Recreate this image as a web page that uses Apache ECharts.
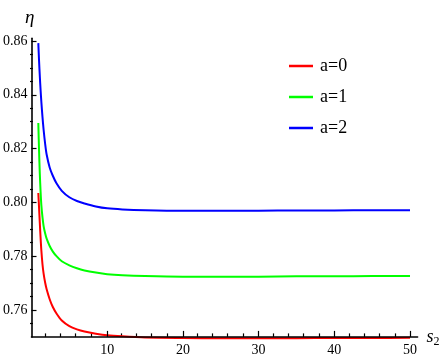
<!DOCTYPE html>
<html>
<head>
<meta charset="utf-8">
<script src="https://cdn.jsdelivr.net/npm/echarts@6/dist/echarts.min.js"></script>
<style>html,body{margin:0;padding:0;background:#fff;}#c{width:443px;height:360px;}</style>
</head>
<body>
<div id="c"></div>
<script>
var s2 = [0.9, 1.0, 1.1, 1.2, 1.3, 1.45, 1.6, 1.8, 2.0, 2.4, 2.8, 3.3, 4, 5, 6, 7, 8.5, 10, 12, 15, 20, 25, 30, 35, 40, 45, 50];
var etaA0 = [0.8035, 0.7978, 0.7922, 0.7868, 0.7822, 0.7770, 0.7735, 0.7702, 0.7677, 0.7640, 0.7612, 0.7587, 0.7561, 0.7540, 0.7528, 0.7520, 0.7512, 0.7506, 0.7502, 0.7498, 0.7496, 0.7495, 0.7495, 0.7495, 0.7496, 0.7496, 0.7497];
var etaA1 = [0.8295, 0.8190, 0.8105, 0.8040, 0.7990, 0.7945, 0.7912, 0.7885, 0.7865, 0.7838, 0.7818, 0.7800, 0.7781, 0.7766, 0.7755, 0.7747, 0.7739, 0.7733, 0.7729, 0.7726, 0.7724, 0.7724, 0.7724, 0.7725, 0.7725, 0.7726, 0.7726];
var etaA2 = [0.8592, 0.8525, 0.8468, 0.8418, 0.8374, 0.8318, 0.8270, 0.8218, 0.8178, 0.8130, 0.8100, 0.8071, 0.8043, 0.8019, 0.8005, 0.7996, 0.7985, 0.7978, 0.7974, 0.7971, 0.7969, 0.7969, 0.7969, 0.7970, 0.7970, 0.7971, 0.7971];
var seriesNames = ['a=0', 'a=1', 'a=2'];
var xMajorTicks = [10, 20, 30, 40, 50];
var xMinorTicks = [2, 4, 6, 8, 12, 14, 16, 18, 22, 24, 26, 28, 32, 34, 36, 38, 42, 44, 46, 48];
var yMajorTicks = [0.76, 0.78, 0.80, 0.82, 0.84, 0.86];
var yMinorTicks = [0.755, 0.765, 0.77, 0.775, 0.785, 0.79, 0.795, 0.805, 0.81, 0.815, 0.825, 0.83, 0.835, 0.845, 0.85, 0.855];

function pairs(xs, ys) { return xs.map(function (x, i) { return [x, ys[i]]; }); }

var FONT = '"Liberation Serif", "Times New Roman", serif';
var gridBox = { left: 30, right: 25.4, top: 38.3, bottom: 23.1 };
var chart = echarts.init(document.getElementById('c'), null, { renderer: 'canvas' });
var colors = ['#ff0000', '#00ff00', '#0000ff'];
var allEta = [etaA0, etaA1, etaA2];

chart.setOption({
  animation: false,
  backgroundColor: '#fff',
  textStyle: { fontFamily: FONT },
  title: {
    text: 'η', left: 20, top: 3,
    textStyle: { fontFamily: FONT, fontStyle: 'italic', fontWeight: 'normal', fontSize: 19, color: '#000' }
  },
  legend: {
    data: seriesNames, orient: 'vertical', left: 284, top: 52,
    icon: 'rect', itemWidth: 24, itemHeight: 2.5, itemGap: 13,
    textStyle: { fontFamily: FONT, fontSize: 18, color: '#000', padding: [0, 0, 0, 2] }
  },
  grid: [
    Object.assign({ containLabel: false }, gridBox),
    Object.assign({ containLabel: false }, gridBox)
  ],
  xAxis: [{
    type: 'value', gridIndex: 0, min: 0, max: 51, z: 5,
    axisLine: { show: true, onZero: false, lineStyle: { color: '#000', width: 1.6 } },
    axisTick: { show: true, inside: true, length: 6, customValues: xMajorTicks, lineStyle: { color: '#000', width: 1.2 } },
    axisLabel: { customValues: xMajorTicks, margin: 6, fontFamily: FONT, fontSize: 14, color: '#000' },
    splitLine: { show: false },
    name: '{s|s}{sub|2}', nameLocation: 'end', nameGap: 9,
    nameTextStyle: {
      fontFamily: FONT,
      rich: {
        s: { fontFamily: FONT, fontStyle: 'italic', fontSize: 18, color: '#000' },
        sub: { fontFamily: FONT, fontSize: 12, color: '#000', padding: [10, 0, 0, 0] }
      }
    }
  }, {
    type: 'value', gridIndex: 1, min: 0, max: 51,
    axisLine: { show: false },
    axisTick: { show: true, inside: true, length: 3.5, customValues: xMinorTicks, lineStyle: { color: '#000', width: 1.2 } },
    axisLabel: { show: false },
    splitLine: { show: false }
  }],
  yAxis: [{
    type: 'value', gridIndex: 0, min: 0.75, max: 0.861, z: 5,
    axisLine: { show: true, onZero: false, lineStyle: { color: '#000', width: 1.6 } },
    axisTick: { show: true, inside: true, length: 5, customValues: yMajorTicks, lineStyle: { color: '#000', width: 1.2 } },
    axisLabel: {
      customValues: yMajorTicks, margin: 4, fontFamily: FONT, fontSize: 14, color: '#000',
      formatter: function (v) { return v.toFixed(2); }
    },
    splitLine: { show: false }
  }, {
    type: 'value', gridIndex: 1, min: 0.75, max: 0.861,
    axisLine: { show: false },
    axisTick: { show: true, inside: true, length: 3, customValues: yMinorTicks, lineStyle: { color: '#000', width: 1.2 } },
    axisLabel: { show: false },
    splitLine: { show: false }
  }],
  series: seriesNames.map(function (n, i) {
    return {
      name: n, type: 'line', xAxisIndex: 0, yAxisIndex: 0,
      data: pairs(s2, allEta[i]),
      smooth: 0.3, showSymbol: false, clip: false,
      lineStyle: { color: colors[i], width: 2 },
      itemStyle: { color: colors[i] }
    };
  })
});
</script>
</body>
</html>
